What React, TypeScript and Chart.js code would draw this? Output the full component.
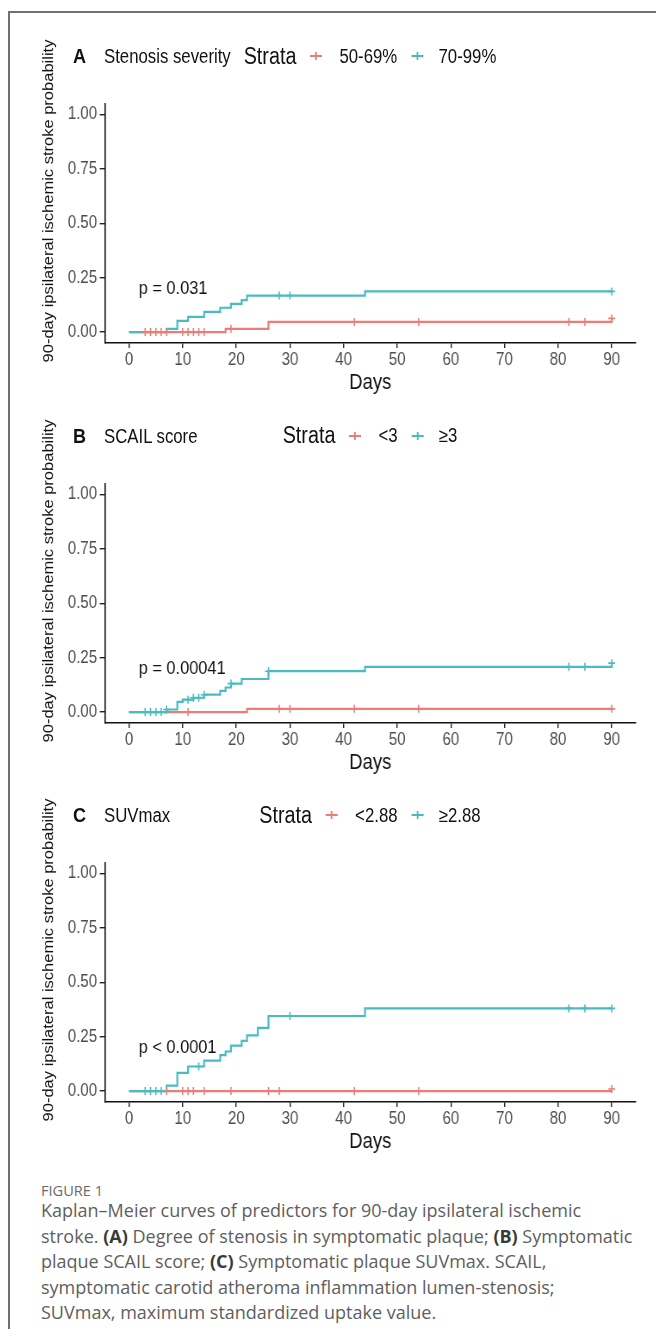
import React, { useEffect, useRef } from "react";
import { Chart, registerables } from "chart.js";

Chart.register(...registerables);

// ---------- data ----------
const X_TICKS = [0, 10, 20, 30, 40, 50, 60, 70, 80, 90];
const Y_TICKS = [0, 0.25, 0.5, 0.75, 1];

const PANEL_LETTERS = ["A", "B", "C"];
const PANEL_TITLES = ["Stenosis severity", "SCAIL score", "SUVmax"];
const LEGEND_LOW = ["50-69%", "<3", "<2.88"];
const LEGEND_HIGH = ["70-99%", "≥3", "≥2.88"];
const P_VALUES = ["p = 0.031", "p = 0.00041", "p < 0.0001"];

// Panel A – stenosis severity
const A_RED_TIMES = [0, 18, 26, 90];
const A_RED_PROB = [0, 0.015, 0.047, 0.063];
const A_RED_CENSOR = [3, 4, 5, 6, 7, 10, 11, 12, 13, 14, 19, 42, 54, 82, 85, 90];
const A_TEAL_TIMES = [0, 7, 9, 11, 14, 17, 19, 21, 22, 44];
const A_TEAL_PROB = [0, 0.015, 0.052, 0.07, 0.093, 0.112, 0.13, 0.147, 0.168, 0.187];
const A_TEAL_CENSOR = [28, 30, 90];

// Panel B – SCAIL score
const B_RED_TIMES = [0, 22];
const B_RED_PROB = [0, 0.015];
const B_RED_CENSOR = [11, 28, 30, 42, 54, 90];
const B_TEAL_TIMES = [0, 7, 9, 10, 12, 14, 17, 18, 19, 21, 26, 44, 90];
const B_TEAL_PROB = [0, 0.012, 0.047, 0.057, 0.066, 0.08, 0.098, 0.113, 0.131, 0.152, 0.188, 0.208, 0.225];
const B_TEAL_CENSOR = [3, 4, 5, 6, 7, 11, 12, 13, 14, 19, 26, 82, 85, 90];

// Panel C – SUVmax
const C_RED_TIMES = [0, 90];
const C_RED_PROB = [0, 0.01];
const C_RED_CENSOR = [7, 10, 11, 12, 14, 19, 26, 28, 42, 54, 90];
const C_TEAL_TIMES = [0, 7, 9, 11, 14, 17, 18, 19, 21, 22, 24, 26, 44];
const C_TEAL_PROB = [0, 0.025, 0.084, 0.113, 0.14, 0.165, 0.182, 0.209, 0.231, 0.256, 0.29, 0.345, 0.38];
const C_TEAL_CENSOR = [3, 4, 5, 6, 13, 30, 82, 85, 90];

const RED_TIMES = [A_RED_TIMES, B_RED_TIMES, C_RED_TIMES];
const RED_PROB = [A_RED_PROB, B_RED_PROB, C_RED_PROB];
const RED_CENSOR = [A_RED_CENSOR, B_RED_CENSOR, C_RED_CENSOR];
const TEAL_TIMES = [A_TEAL_TIMES, B_TEAL_TIMES, C_TEAL_TIMES];
const TEAL_PROB = [A_TEAL_PROB, B_TEAL_PROB, C_TEAL_PROB];
const TEAL_CENSOR = [A_TEAL_CENSOR, B_TEAL_CENSOR, C_TEAL_CENSOR];

// ---------- style / layout ----------
const RED = "#EA7E77";
const TEAL = "#48BCC1";
const FONT = "'Liberation Sans', Arial, Helvetica, sans-serif";
const K = 0.86; // horizontal compression of the figure
const PANEL_STEP = 379.5;
const X_END = X_TICKS[X_TICKS.length - 1];

const ix = (px: number) => (px - 8) / K; // page x -> inner x

// canvas geometry (page coordinates for panel A)
const CANVAS_L = 40;
const CANVAS_R = 660;
const CANVAS_T = 90;
const CANVAS_B = 396;
const AREA_L = 105;
const AREA_R = 636;
const AREA_T = 99;
const AREA_B = 343;

const CW = (CANVAS_R - CANVAS_L) / K;
const CH = CANVAS_B - CANVAS_T;
const YW = (AREA_L - CANVAS_L) / K;
const PR = (CANVAS_R - AREA_R) / K;
const PT = AREA_T - CANVAS_T;
const XH = CANVAS_B - AREA_B;

function stepPoints(times: number[], probs: number[]) {
  const pts = times.map((t, i) => ({ x: t, y: probs[i] }));
  if (times[times.length - 1] < X_END) pts.push({ x: X_END, y: probs[probs.length - 1] });
  return pts;
}

function valueAt(times: number[], probs: number[], t: number) {
  let v = probs[0];
  for (let i = 0; i < times.length; i++) if (times[i] <= t) v = probs[i];
  return v;
}

function censorPoints(times: number[], probs: number[], cens: number[]) {
  return cens.map((t) => ({ x: t, y: valueAt(times, probs, t) }));
}

const pvalPlugin = {
  id: "pval",
  afterDatasetsDraw(chart: any, _args: any, opts: any) {
    const { ctx, scales } = chart;
    ctx.save();
    ctx.font = `19px ${FONT}`;
    ctx.fillStyle = "#111";
    ctx.textAlign = "left";
    ctx.textBaseline = "middle";
    ctx.fillText(opts.text, scales.x.getPixelForValue(1.8), scales.y.getPixelForValue(0.2));
    ctx.restore();
  },
};

function Key({ color }: { color: string }) {
  return (
    <span style={{ position: "relative", display: "inline-block", width: 14, height: 12 }}>
      <span style={{ position: "absolute", left: 0, right: 0, top: 5, height: 2, background: color }} />
      <span style={{ position: "absolute", left: 6, width: 2, top: 2, height: 8, background: color }} />
    </span>
  );
}

function Panel({ index }: { index: number }) {
  const ref = useRef<HTMLCanvasElement>(null);

  useEffect(() => {
    const rt = RED_TIMES[index];
    const rp = RED_PROB[index];
    const tt = TEAL_TIMES[index];
    const tp = TEAL_PROB[index];
    const chart = new Chart(ref.current as HTMLCanvasElement, {
      type: "line",
      data: {
        datasets: [
          {
            data: stepPoints(rt, rp),
            borderColor: RED,
            borderWidth: 2.2,
            stepped: true,
            pointRadius: 0,
            fill: false,
            order: 4,
          },
          {
            data: stepPoints(tt, tp),
            borderColor: TEAL,
            borderWidth: 2.2,
            stepped: true,
            pointRadius: 0,
            fill: false,
            order: 3,
          },
          {
            data: censorPoints(rt, rp, RED_CENSOR[index]),
            showLine: false,
            pointStyle: "cross",
            pointRadius: 4,
            pointBorderWidth: 1.6,
            pointBorderColor: RED,
            borderColor: RED,
            order: 2,
          },
          {
            data: censorPoints(tt, tp, TEAL_CENSOR[index]),
            showLine: false,
            pointStyle: "cross",
            pointRadius: 4,
            pointBorderWidth: 1.6,
            pointBorderColor: TEAL,
            borderColor: TEAL,
            order: 1,
          },
        ] as any,
      },
      options: {
        animation: false,
        responsive: false,
        devicePixelRatio: 1,
        events: [],
        layout: { padding: { left: 0, right: PR, top: PT, bottom: 0 } },
        plugins: {
          legend: { display: false },
          tooltip: { enabled: false },
          title: { display: false },
          pval: { text: P_VALUES[index] },
        } as any,
        scales: {
          x: {
            type: "linear",
            min: -4.5,
            max: 94.5,
            afterBuildTicks: (s: any) => {
              s.ticks = X_TICKS.map((v) => ({ value: v }));
            },
            afterFit: (s: any) => {
              s.height = XH;
            },
            grid: { drawOnChartArea: false, drawTicks: true, tickLength: 5, color: "#222", lineWidth: 1.4 },
            border: { display: true, color: "#111", width: 1.6 },
            ticks: {
              color: "#4d4d4d",
              font: { family: FONT, size: 17.5 },
              padding: 2,
              maxRotation: 0,
              autoSkip: false,
              callback: (v: any) => String(v),
            },
            title: {
              display: true,
              text: "Days",
              color: "#111",
              font: { family: FONT, size: 21.5 },
              padding: { top: -3, bottom: 0 },
            },
          },
          y: {
            type: "linear",
            min: -0.05,
            max: 1.05,
            afterBuildTicks: (s: any) => {
              s.ticks = Y_TICKS.map((v) => ({ value: v }));
            },
            afterFit: (s: any) => {
              s.width = YW;
            },
            grid: { drawOnChartArea: false, drawTicks: true, tickLength: 6, color: "#222", lineWidth: 1.4 },
            border: { display: true, color: "#111", width: 1.6 },
            ticks: {
              color: "#4d4d4d",
              font: { family: FONT, size: 17.5 },
              padding: 3,
              autoSkip: false,
              callback: (v: any) => Number(v).toFixed(2),
            },
          },
        },
      } as any,
      plugins: [pvalPlugin as any],
    });
    return () => chart.destroy();
  }, [index]);

  const top = index * PANEL_STEP;
  const headerY = 56 - 8;
  return (
    <div
      style={{
        position: "absolute",
        left: 0,
        top,
        width: 656 / K,
        height: 380,
        transform: `scaleX(${K})`,
        transformOrigin: "0 0",
        fontFamily: FONT,
        color: "#111",
      }}
    >
      <div
        style={{
          position: "absolute",
          left: ix(48) - 220,
          top: 201 - 8 - 12,
          width: 440,
          height: 24,
          lineHeight: "24px",
          textAlign: "center",
          fontSize: 16.5,
          whiteSpace: "nowrap",
          transform: "rotate(-90deg)",
        }}
      >
        90-day ipsilateral ischemic stroke probability
      </div>
      <div
        style={{
          position: "absolute",
          left: ix(73),
          top: headerY - 13,
          height: 26,
          lineHeight: "26px",
          fontSize: 21,
          fontWeight: "bold",
        }}
      >
        {PANEL_LETTERS[index]}
      </div>
      <div
        style={{
          position: "absolute",
          left: ix(104),
          top: headerY - 13,
          height: 26,
          lineHeight: "26px",
          fontSize: 19.5,
          whiteSpace: "nowrap",
        }}
      >
        {PANEL_TITLES[index]}
      </div>
      <div
        style={{
          position: "absolute",
          left: ix(370),
          top: headerY - 15,
          height: 30,
          display: "flex",
          alignItems: "center",
          whiteSpace: "nowrap",
          transform: "translateX(-50%)",
        }}
      >
        <span style={{ fontSize: 23, marginRight: 16 }}>Strata</span>
        <Key color={RED} />
        <span style={{ fontSize: 19.5, marginLeft: 20, marginRight: 16 }}>{LEGEND_LOW[index]}</span>
        <Key color={TEAL} />
        <span style={{ fontSize: 19.5, marginLeft: 18 }}>{LEGEND_HIGH[index]}</span>
      </div>
      <canvas
        ref={ref}
        width={CW}
        height={CH}
        style={{ position: "absolute", left: ix(CANVAS_L), top: CANVAS_T - 8, width: CW, height: CH }}
      />
    </div>
  );
}

const CAPTION_FONT = "'Open Sans', Lato, 'Noto Sans', sans-serif";

function Caption() {
  const b = { fontWeight: "bold" as const, color: "#3a3a3a" };
  return (
    <>
      <div
        style={{
          position: "absolute",
          left: 33,
          top: 1190 - 8 - 10,
          height: 20,
          lineHeight: "20px",
          fontFamily: CAPTION_FONT,
          fontSize: 14.6,
          color: "#6a6a6a",
          whiteSpace: "nowrap",
        }}
      >
        FIGURE 1
      </div>
      <div
        style={{
          position: "absolute",
          left: 33,
          top: 1211 - 8 - 12.75,
          lineHeight: "25.5px",
          fontFamily: CAPTION_FONT,
          fontSize: 18,
          color: "#5e5e5e",
          whiteSpace: "nowrap",
        }}
      >
        Kaplan–Meier curves of predictors for 90-day ipsilateral ischemic
        <br />
        stroke. <span style={b}>(A)</span> Degree of stenosis in symptomatic plaque; <span style={b}>(B)</span> Symptomatic
        <br />
        plaque SCAIL score; <span style={b}>(C)</span> Symptomatic plaque SUVmax. SCAIL,
        <br />
        symptomatic carotid atheroma inflammation lumen-stenosis;
        <br />
        SUVmax, maximum standardized uptake value.
      </div>
    </>
  );
}

export default function App() {
  return (
    <div style={{ position: "relative", width: 656, height: 1321, overflow: "hidden", background: "#fff" }}>
      <div
        style={{
          position: "absolute",
          left: 0,
          top: 3,
          width: 720,
          height: 1400,
          border: "2px solid #707070",
          boxSizing: "border-box",
        }}
      />
      {[0, 1, 2].map((i) => (
        <Panel key={i} index={i} />
      ))}
      <Caption />
    </div>
  );
}
